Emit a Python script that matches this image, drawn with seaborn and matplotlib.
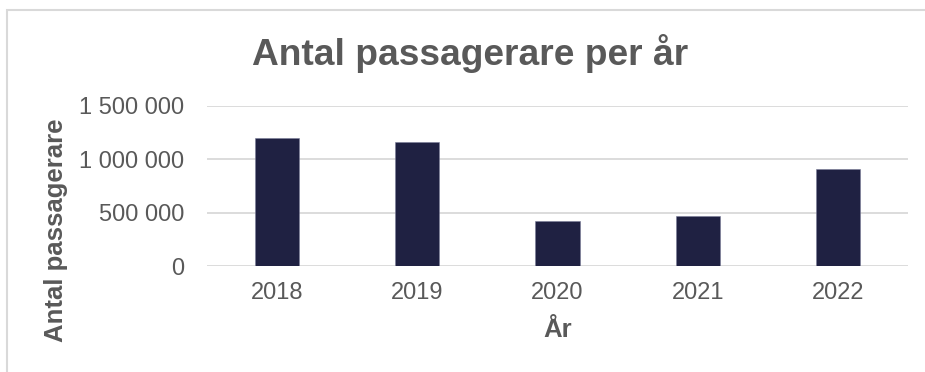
import matplotlib
matplotlib.use("Agg")
import matplotlib.pyplot as plt
import matplotlib.ticker as mticker
from matplotlib.patches import Rectangle
import seaborn as sns
import pandas as pd

years = ["2018", "2019", "2020", "2021", "2022"]
passengers = [1200000, 1160000, 420000, 470000, 910000]
y_ticks = [0, 500000, 1000000, 1500000]
title = "Antal passagerare per år"
x_label = "År"
y_label = "Antal passagerare"

df = pd.DataFrame({"year": years, "passengers": passengers})

sns.set_theme(style="white")
plt.rcParams["font.family"] = ["Liberation Sans", "DejaVu Sans"]

text_color = "#595959"
grid_color = "#d9d9d9"
bar_color = "#1F2142"

fig = plt.figure(figsize=(9.25, 3.72), dpi=100)
ax = fig.add_axes([207 / 925, 105.7 / 372, 701 / 925, 160.3 / 372])

sns.barplot(data=df, x="year", y="passengers", color=bar_color, width=0.314,
            saturation=1, ax=ax, edgecolor="#7a7c98", linewidth=0.4, zorder=3)

ax.set_xlim(-0.5, len(years) - 0.5)
ax.set_ylim(0, y_ticks[-1])
ax.set_yticks(y_ticks)
ax.yaxis.set_major_formatter(mticker.FuncFormatter(lambda v, p: f"{v:,.0f}".replace(",", " ")))

ax.grid(axis="y", color=grid_color, linewidth=1.3, zorder=0)
ax.grid(axis="x", visible=False)
ax.set_axisbelow(True)
for s in ax.spines.values():
    s.set_visible(False)

ax.tick_params(axis="x", length=0, pad=11, labelsize=17, labelcolor=text_color)
ax.tick_params(axis="y", length=0, pad=16.5, labelsize=17, labelcolor=text_color)

ax.set_xlabel(x_label, fontsize=18.5, fontweight="bold", color=text_color, va="center")
ax.xaxis.set_label_coords(0.5, -0.40)
ax.set_ylabel(y_label, fontsize=18.5, fontweight="bold", color=text_color, va="center", ha="center")
ax.yaxis.set_label_coords((56 - 207) / 701, (266.3 - 230) / 160.3)

fig.text(470.5 / 925, 1 - 65 / 372, title, ha="center", va="baseline",
         fontsize=26.7, fontweight="bold", color=text_color)

fig.patches.append(Rectangle((7 / 925, -0.1), 1.2, (372 - 10) / 372 + 0.1,
                             transform=fig.transFigure, fill=False,
                             edgecolor=grid_color, linewidth=1.5))

fig.savefig("out.png", dpi=100, facecolor="white")
